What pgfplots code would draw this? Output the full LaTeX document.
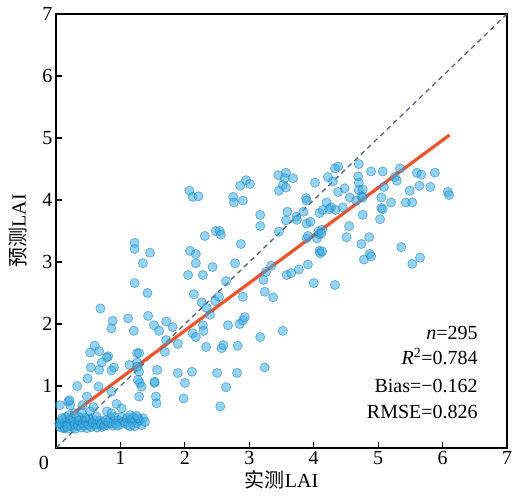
\documentclass[border=0pt]{standalone}
\usepackage{pgfplots}
\pgfplotsset{compat=1.18}
\usepackage{fontspec}
\setmainfont{Liberation Serif}
\newfontfamily\cjk{Noto Sans CJK SC}
\definecolor{ptfill}{RGB}{60,175,230}
\definecolor{ptedge}{RGB}{30,120,175}
\definecolor{regred}{RGB}{238,85,45}
\definecolor{dashgray}{RGB}{85,100,115}
\begin{document}
\begin{tikzpicture}
\begin{axis}[
  scale only axis, width=451pt, height=434pt,
  xmin=0,xmax=7,ymin=0,ymax=7,
  xtick={1,...,7}, ytick={1,...,7},
  tick align=inside, xtick pos=bottom, ytick pos=left,
  major tick length=6pt,
  axis line style={line width=1.4pt},
  tick style={line width=1.2pt, black},
  tick label style={font=\fontsize{20}{24}\selectfont},
  label style={font=\fontsize{20}{24}\selectfont},
  /pgf/number format/assume math mode=true,
  xlabel={{\cjk 实测}LAI}, ylabel={{\cjk 预测}LAI},
  xlabel style={at={(axis description cs:0.5,-0.074)},anchor=center},
  ylabel style={at={(axis description cs:-0.084,0.5)},anchor=center},
  clip=false,
]
\addplot[only marks, mark=*, mark size=4.6pt,
  mark options={fill=ptfill, fill opacity=0.55, draw=ptedge, draw opacity=0.55, line width=0.7pt}]
coordinates {
(0.06,0.34)(0.11,0.32)(0.14,0.39)(0.19,0.37)(0.24,0.40)(0.27,0.34)(0.32,0.42)(0.37,0.37)
(0.42,0.45)(0.48,0.32)(0.53,0.42)(0.58,0.37)(0.60,0.45)(0.66,0.40)(0.71,0.34)(0.73,0.42)
(0.79,0.37)(0.84,0.48)(0.86,0.40)(0.91,0.50)(0.97,0.45)(1.02,0.50)(1.04,0.42)(1.10,0.48)
(1.15,0.45)(1.20,0.50)(1.25,0.40)(1.30,0.45)(1.33,0.37)(1.35,0.48)(1.38,0.42)
(0.08,0.38)(0.10,0.45)(0.13,0.33)(0.16,0.42)(0.18,0.31)(0.21,0.44)(0.23,0.35)(0.26,0.47)
(0.29,0.38)(0.30,0.31)(0.34,0.36)(0.36,0.45)(0.39,0.33)(0.41,0.40)(0.44,0.36)(0.46,0.43)
(0.50,0.38)(0.52,0.47)(0.55,0.34)(0.57,0.41)(0.62,0.38)(0.64,0.33)(0.68,0.44)(0.70,0.38)
(0.75,0.36)(0.77,0.45)(0.81,0.41)(0.88,0.36)(0.93,0.40)(0.99,0.38)(1.07,0.40)(1.12,0.37)
(1.18,0.42)(1.22,0.35)(1.27,0.48)(0.15,0.50)(0.05,0.40)(0.20,0.53)(0.09,0.48)(0.35,0.50)
(0.63,0.51)(0.95,0.36)(1.15,0.35)(0.17,0.34)(0.45,0.49)
(0.33,1.00)(0.66,0.99)(0.86,0.91)(1.30,1.05)(1.33,0.99)(1.29,0.83)(1.53,1.05)(1.55,0.83)
(1.56,0.72)(0.06,0.69)(0.19,0.75)(0.22,0.69)(0.41,0.69)(0.58,0.66)(0.79,0.59)(0.94,0.71)
(1.02,0.64)(0.86,0.56)(1.15,0.53)(1.25,0.52)(0.29,0.56)(0.40,0.57)(0.53,0.59)(0.21,0.77)
(0.48,0.83)
(1.42,2.50)(0.69,2.25)(0.88,2.05)(0.86,1.93)(1.12,2.09)(1.21,1.89)(1.43,2.13)(1.52,1.98)
(1.60,1.89)(1.71,2.04)(0.60,1.65)(0.53,1.54)(0.67,1.56)(0.81,1.48)(0.79,1.46)(0.71,1.38)
(0.67,1.26)(0.54,1.30)(0.90,1.30)(0.86,1.25)(0.49,1.12)(1.14,1.34)(1.26,1.53)(1.29,1.53)
(1.26,1.38)(1.29,1.23)(1.71,1.74)(1.57,1.26)(1.53,1.07)(1.26,1.31)(1.27,1.10)(1.81,1.95)
(1.89,1.68)(1.69,1.55)(1.89,1.21)(2.11,1.23)(2.00,1.05)(2.50,1.21)(2.81,1.21)(2.64,0.98)
(1.98,0.80)(2.55,0.67)
(1.22,3.31)(1.22,3.21)(1.46,3.15)(1.35,2.98)(1.22,2.66)
(2.33,1.63)(2.57,1.61)(2.60,1.66)(2.82,1.65)(2.12,1.85)(2.17,1.79)(2.28,1.98)(2.29,1.89)
(2.67,1.98)(2.85,2.00)(2.90,2.06)(2.93,2.11)(2.39,2.15)(2.26,2.35)(2.14,2.48)(2.34,2.26)
(2.47,2.37)(2.53,2.44)(2.90,2.44)(2.64,2.69)(2.05,2.79)(2.28,2.79)(2.43,2.92)(2.78,2.98)
(2.08,3.18)(2.17,3.13)(2.17,2.98)(2.31,3.42)(2.48,3.50)(2.54,3.50)(2.56,3.44)(2.87,3.29)
(3.17,1.79)(3.52,1.89)(3.24,1.30)
(2.07,4.15)(2.12,4.05)(2.21,4.06)(2.75,4.05)(2.76,3.96)(2.90,3.99)(2.86,4.23)(2.95,4.32)
(3.01,4.26)(3.45,4.40)(3.57,4.44)(3.55,4.35)(3.68,4.35)(3.52,4.24)(3.46,4.15)(3.57,4.20)
(4.02,4.28)(4.22,4.37)(3.88,4.03)(3.89,3.99)(4.20,3.96)(3.17,3.76)(3.17,3.58)(3.59,3.81)
(3.57,3.67)(3.73,3.73)(3.74,3.68)(3.84,3.81)(3.89,3.62)(3.95,3.65)(4.09,3.79)(4.14,3.84)
(3.46,3.49)(3.89,3.38)(3.91,3.42)(4.05,3.38)(4.08,3.45)(4.13,3.52)(4.09,3.18)(4.10,3.14)
(4.13,3.17)(3.26,2.84)(3.34,2.94)(3.58,2.79)(3.65,2.82)(3.77,2.88)(3.91,2.96)(3.22,2.71)
(4.00,2.66)(3.24,2.52)(3.37,2.43)
(4.33,4.51)(4.38,4.54)(4.70,4.58)(5.34,4.51)(4.30,4.30)(4.69,4.38)(4.70,4.28)(4.89,4.46)
(5.07,4.46)(5.26,4.37)(5.29,4.31)(5.60,4.44)(5.67,4.41)(5.88,4.44)(4.38,4.13)(4.48,4.19)
(4.70,4.16)(4.76,4.17)(5.09,4.21)(5.49,4.15)(5.64,4.23)(5.81,4.21)(4.56,4.04)(4.74,4.06)
(4.76,4.04)(5.05,4.04)(5.43,3.96)(5.53,3.96)(4.27,3.88)(4.66,3.99)(5.20,3.96)(4.24,3.85)
(4.34,3.84)(4.45,3.88)(4.76,3.76)(5.03,3.69)(5.05,3.87)(5.07,3.85)(4.55,3.58)(4.07,3.49)
(4.12,3.46)(4.51,3.40)(4.74,3.29)(4.86,3.40)(4.78,3.04)(4.87,3.13)(4.89,3.09)(5.36,3.24)
(5.53,2.97)(5.65,3.07)(4.33,2.63)(6.08,4.13)(6.10,4.08)
};
\addplot[dashgray, line width=1.3pt, dash pattern=on 5pt off 4pt] coordinates {(0,0)(7,7)};
\addplot[regred, line width=3.2pt] coordinates {(0.03,0.38)(6.11,5.05)};
\node[anchor=base east, font=\fontsize{20}{24}\selectfont] at (axis cs:6.6,1.758) {\textit{n}=295};
\node[anchor=base east, font=\fontsize{20}{24}\selectfont] at (axis cs:6.6,1.339) {\textit{R}\textsuperscript{2}=0.784};
\node[anchor=base east, font=\fontsize{20}{24}\selectfont] at (axis cs:6.6,0.892) {Bias=−0.162};
\node[anchor=base east, font=\fontsize{20}{24}\selectfont] at (axis cs:6.6,0.468) {RMSE=0.826};
\node[anchor=center, font=\fontsize{20}{24}\selectfont] at ([shift={(-12pt,-15pt)}]rel axis cs:0,0) {0};
\coordinate (bl) at (rel axis cs:0,0);
\coordinate (tr) at (rel axis cs:1,1);
\end{axis}
\pgfresetboundingbox
\path[use as bounding box] ([shift={(-56pt,-48pt)}]bl) rectangle ([shift={(5pt,14pt)}]tr);
\end{tikzpicture}
\end{document}
